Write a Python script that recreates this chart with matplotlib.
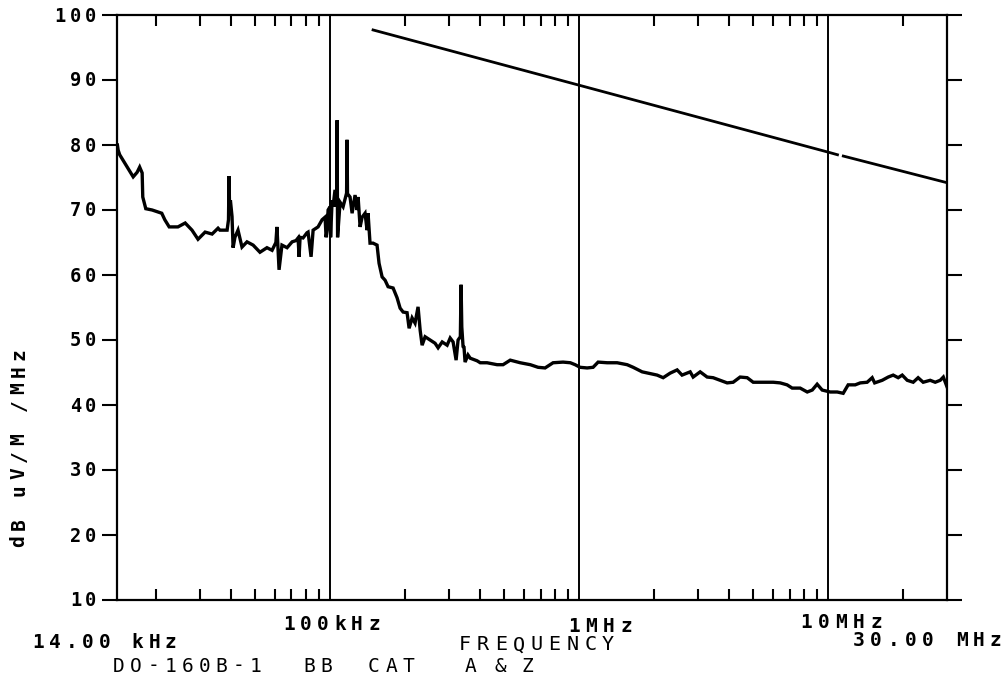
import matplotlib
matplotlib.use("Agg")
import matplotlib.pyplot as plt
from matplotlib.ticker import FixedLocator, NullFormatter
import numpy as np

# Measured broadband emission (frequency in kHz, level in dB uV/M /MHz)
freq_khz = [
    14.0, 14.1, 14.3, 15.0, 16.2, 16.8, 17.2, 17.6, 17.7, 18.2, 19.3, 21.1, 21.7,
    22.6, 24.5, 26.2, 27.9, 29.5, 31.5, 33.6, 35.5, 36.1, 38.6, 39.1, 39.3, 39.5,
    39.8, 40.4, 40.8, 41.5, 42.7, 44.3, 46.4, 49.1, 52.3, 55.8, 58.5, 60.6, 61.2,
    61.8, 62.4, 64.1, 67.2, 70.4, 73.0, 74.4, 75.1, 75.8, 77.9, 80.8, 81.6, 83.9,
    85.5, 89.5, 92.9, 95.5, 96.4, 97.3, 98.2, 100.0, 100.5, 101.9, 102.8, 104.7,
    106.2, 106.7, 107.2, 109.7, 112.8, 116.5, 117.0, 117.5, 120.3, 122.6, 126.0,
    128.4, 129.6, 132.0, 134.5, 138.2, 140.8, 142.1, 144.7, 148.8, 154.4, 157.3,
    161.8, 166.3, 171.0, 179.1, 185.8, 191.1, 196.5, 203.8, 207.7, 213.5, 219.4,
    225.6, 230.0, 234.2, 240.8, 252.3, 264.0, 271.5, 282.0, 295.1, 303.6, 311.9,
    320.7, 326.6, 333.5, 335.8, 338.0, 342.0, 345.0, 348.4, 358.0, 365.4, 389.4,
    400.8, 427.0, 468.5, 495.0, 529.0, 580.0, 637.0, 684.0, 730.0, 786.0, 862.0,
    922.0, 964.0, 1009, 1077, 1138, 1192, 1296, 1421, 1559, 1648, 1791, 1893, 2057,
    2175, 2320, 2475, 2590, 2792, 2870, 3062, 3266, 3452, 3685, 3930, 4155, 4430,
    4730, 5000, 5480, 6020, 6420, 6840, 7170, 7720, 8240, 8630, 9030, 9460, 10190,
    10870, 11490, 12030, 12840, 13450, 14340, 15020, 15370, 16480, 17420, 18240,
    19100, 19830, 20770, 21950, 22970, 24070, 25680, 26900, 28170, 29000, 30000,
]
level_db = [
    80.0, 79.2, 78.5, 77.2, 75.1, 75.8, 76.6, 75.7, 72.0, 70.2, 70.0, 69.5, 68.5,
    67.4, 67.4, 68.0, 66.9, 65.5, 66.6, 66.3, 67.2, 66.9, 66.9, 68.5, 75.2, 70.0,
    71.5, 69.0, 64.2, 65.8, 66.9, 64.3, 65.1, 64.6, 63.5, 64.2, 63.8, 65.0, 67.4,
    64.0, 60.8, 64.6, 64.2, 65.1, 65.3, 65.7, 62.8, 65.8, 65.7, 66.5, 66.6, 62.8,
    66.9, 67.4, 68.5, 68.9, 65.8, 66.9, 70.0, 70.5, 65.8, 71.5, 70.5, 73.1,
    70.5, 83.8, 65.8, 71.2, 70.5, 72.6, 80.8, 72.5, 72.0, 69.5, 72.3,
    70.0, 72.0, 67.4, 68.9, 69.5, 66.9, 69.5, 64.9, 64.9, 64.6, 61.8,
    59.7, 59.2, 58.2, 58.0, 56.5, 54.9, 54.3, 54.2, 51.8, 53.4, 52.6,
    55.1, 51.5, 49.2, 50.5, 50.0, 49.5, 48.8, 49.7, 49.2, 50.3, 49.7,
    46.9, 50.0, 50.5, 58.5, 52.0, 49.0, 48.9, 46.6, 47.7, 47.2, 46.8,
    46.5, 46.5, 46.2, 46.2, 46.9, 46.5, 46.2, 45.8, 45.7, 46.5, 46.6,
    46.5, 46.2, 45.8, 45.7, 45.8, 46.6, 46.5, 46.5, 46.2, 45.8, 45.1, 44.9, 44.6,
    44.2, 44.9, 45.4, 44.6, 45.1, 44.3, 45.1, 44.3, 44.2, 43.8, 43.4, 43.5, 44.3,
    44.2, 43.5, 43.5, 43.5, 43.4, 43.1, 42.6, 42.6, 42.0, 42.3, 43.2, 42.3, 42.0,
    42.0, 41.8, 43.1, 43.1, 43.4, 43.5, 44.2, 43.4, 43.8, 44.3, 44.6,
    44.2, 44.6, 43.8, 43.5, 44.2, 43.5, 43.8, 43.5, 43.8, 44.3, 42.8,
]

# Category limit line, drawn in two pieces (pen lifted just past 10 MHz)
limit_khz_a = [148.8, 1000, 10000, 10900]
limit_db_a = [97.7, 89.2, 78.9, 78.5]
limit_khz_b = [11500, 30000]
limit_db_b = [78.3, 74.2]

y_ticks = [10, 20, 30, 40, 50, 60, 70, 80, 90, 100]
decades_khz = [100, 1000, 10000]
minor_khz = [20, 30, 40, 50, 60, 70, 80, 90,
             200, 300, 400, 500, 600, 700, 800, 900,
             2000, 3000, 4000, 5000, 6000, 7000, 8000, 9000, 20000]

W, H = 1003, 683
fig = plt.figure(figsize=(W / 100, H / 100), dpi=100)
ax = fig.add_axes([117.4 / W, 1 - 600 / H, (947 - 117.4) / W, (600 - 15) / H])
ax.set_xscale("log")
ax.set_xlim(14, 30000)
ax.set_ylim(10, 100)

for s in ax.spines.values():
    s.set_linewidth(1.6)

ax.xaxis.set_major_locator(FixedLocator(decades_khz))
ax.xaxis.set_minor_locator(FixedLocator(minor_khz))
ax.xaxis.set_major_formatter(NullFormatter())
ax.xaxis.set_minor_formatter(NullFormatter())
ax.tick_params(axis="x", which="major", length=0, top=True, bottom=True)
ax.tick_params(axis="x", which="minor", direction="in", length=8, width=1.5,
               top=True, bottom=True)
ax.yaxis.set_major_locator(FixedLocator(y_ticks))
ax.yaxis.set_major_formatter(NullFormatter())
ax.tick_params(axis="y", which="major", direction="out", length=11, width=1.5,
               left=True, right=True)
ax.grid(True, axis="x", which="major", color="black", linewidth=1.4)

ax.plot(freq_khz, level_db, color="black", linewidth=2.4, solid_joinstyle="miter")
ax.plot(limit_khz_a, limit_db_a, color="black", linewidth=2.0)
ax.plot(limit_khz_b, limit_db_b, color="black", linewidth=2.0)

MONO = "DejaVu Sans Mono"


def spaced(x0, yc, text, pitch, size=14, weight="bold", family=MONO, rot=0):
    """Write text with plotter-style fixed character pitch (pixel coords)."""
    for i, ch in enumerate(text):
        if ch == " ":
            continue
        if rot == 0:
            x, y = x0 + i * pitch, yc
        else:
            x, y = x0, yc - i * pitch
        fig.text(x / W, 1 - y / H, ch, ha="center", va="center", fontsize=size,
                 fontweight=weight, family=family, rotation=rot)


# y tick labels, right aligned against the tick marks
for v in y_ticks:
    lab = str(v)
    yc = 15 + (100 - v) * 6.5
    x_last = 91
    spaced(x_last - (len(lab) - 1) * 15.5, yc + 1, lab, 15.5, size=13.5)

# decade labels and range annotations
spaced(289, 625, "100kHz", 17.0)
spaced(574, 626, "1MHz", 17.3)
spaced(806, 623, "10MHz", 17.5)
spaced(38, 642, "14.00 kHz", 16.6)
spaced(859, 641, "30.00 MHz", 17.1)
spaced(465, 645, "FREQUENCY", 17.9, size=14.5, weight="normal")
for word, x in [("DO-160B-1", 119), ("BB", 309), ("CAT", 374), ("A", 471),
                ("&", 500), ("Z", 527)]:
    spaced(x, 666, word, 17.1, size=14, weight="normal")

# rotated axis title
spaced(19, 541, "dB uV/M /MHz", 17, size=14, weight="bold", rot=90)

fig.savefig("out.png", dpi=100)
